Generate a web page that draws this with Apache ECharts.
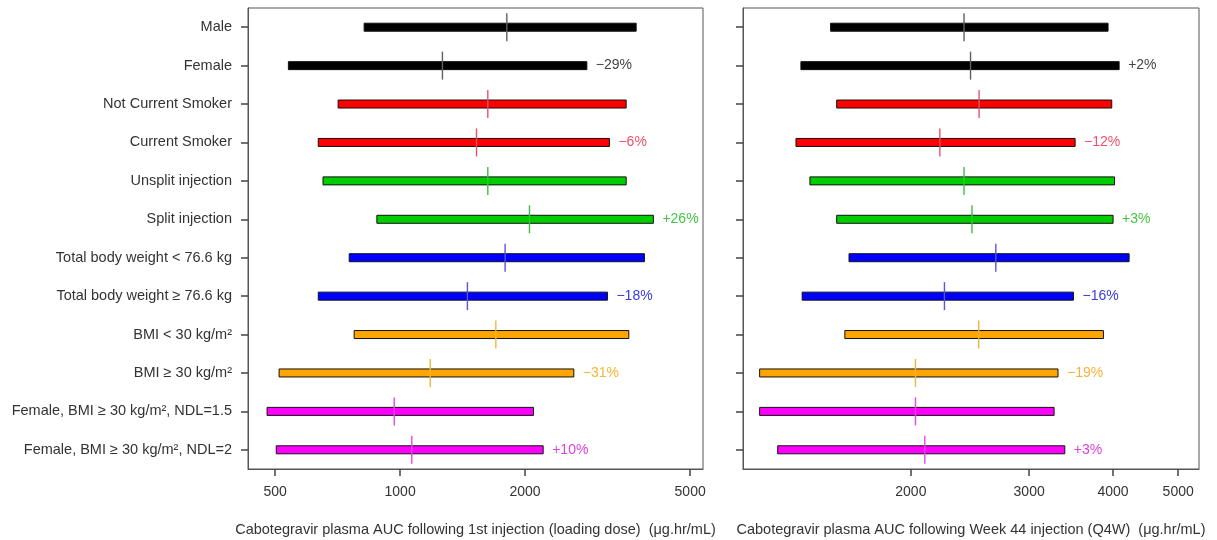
<!DOCTYPE html>
<html>
<head>
<meta charset="utf-8">
<script src="https://cdn.jsdelivr.net/npm/echarts@6/dist/echarts.min.js"></script>
<style>html,body{margin:0;padding:0;background:#fff}#c{width:1217px;height:540px}</style>
</head>
<body>
<div id="c"></div>
<script>
const categories = [
  'Male', 'Female', 'Not Current Smoker', 'Current Smoker', 'Unsplit injection', 'Split injection',
  'Total body weight < 76.6 kg', 'Total body weight \u2265 76.6 kg', 'BMI < 30 kg/m\u00b2', 'BMI \u2265 30 kg/m\u00b2',
  'Female, BMI \u2265 30 kg/m\u00b2, NDL=1.5', 'Female, BMI \u2265 30 kg/m\u00b2, NDL=2'
];
const leftLow  = [819, 538, 709, 635, 652, 879, 754, 635, 775, 511, 478, 503];
const leftMed  = [1808, 1265, 1627, 1528, 1627, 2050, 1791, 1453, 1701, 1182, 968, 1067];
const leftHigh = [3706, 2819, 3506, 3195, 3506, 4078, 3880, 3160, 3558, 2622, 2096, 2212];
const leftPct  = ['', '\u221229%', '', '\u22126%', '', '+26%', '', '\u221218%', '', '\u221231%', '', '+10%'];
const rightLow  = [1519, 1372, 1551, 1349, 1415, 1551, 1618, 1378, 1595, 1191, 1191, 1267];
const rightMed  = [2400, 2454, 2527, 2209, 2400, 2466, 2676, 2244, 2524, 2032, 2032, 2098];
const rightHigh = [3932, 4084, 3982, 3512, 4020, 4000, 4226, 3492, 3870, 3312, 3268, 3390];
const rightPct  = ['', '+2%', '', '\u221212%', '', '+3%', '', '\u221216%', '', '\u221219%', '', '+3%'];
const leftTicks  = [500, 1000, 2000, 5000];
const rightTicks = [2000, 3000, 4000, 5000];
const leftTitle  = 'Cabotegravir plasma AUC following 1st injection (loading dose)  (\u03bcg.hr/mL)';
const rightTitle = 'Cabotegravir plasma AUC following Week 44 injection (Q4W)  (\u03bcg.hr/mL)';

// styles (per pair of rows)
const barColors  = ['#000000', '#ff0000', '#00cd00', '#0000ff', '#ffa500', '#ff00ff'];
const medColors  = ['#606060', '#e8506e', '#3cbf3c', '#5555dd', '#f2b636', '#e648e6'];
const pctColors  = ['#444444', '#f0506a', '#44c444', '#3a3ae0', '#f5b43a', '#e040e0'];
const FONT = '"Liberation Sans", Arial, sans-serif';
const data_pct = [leftPct, rightPct];

function makeData(lo, me, hi) {
  return lo.map((v, i) => [v, me[i], hi[i], i]);
}

function renderItem(params, api) {
  const idx = api.value(3);
  const pLo = api.coord([api.value(0), idx]);
  const pMe = api.coord([api.value(1), idx]);
  const pHi = api.coord([api.value(2), idx]);
  const g = Math.floor(idx / 2);
  const pct = data_pct[params.seriesIndex][params.dataIndex];
  const h = 8;
  const children = [
    {
      type: 'rect',
      shape: { x: pLo[0], y: pLo[1] - h / 2, width: pHi[0] - pLo[0], height: h },
      style: { fill: barColors[g], stroke: '#111', lineWidth: 1 }
    },
    {
      type: 'line',
      shape: { x1: pMe[0], y1: pMe[1] - 14, x2: pMe[0], y2: pMe[1] + 14 },
      style: { stroke: medColors[g], lineWidth: 1.4 }
    }
  ];
  if (pct) {
    children.push({
      type: 'text',
      style: {
        text: pct, x: pHi[0] + 9, y: pHi[1], verticalAlign: 'middle', align: 'left',
        fill: pctColors[g], font: '14px ' + FONT
      }
    });
  }
  return { type: 'group', children };
}

const chart = echarts.init(document.getElementById('c'), null, { renderer: 'canvas' });

function xAxis(gi, min, ticks, title) {
  return {
    type: 'log', gridIndex: gi, logBase: 10, min: min, max: 5370,
    axisLine: { show: true, lineStyle: { color: '#555', width: 1 } },
    axisTick: { show: true, length: 7, customValues: ticks, lineStyle: { color: '#444', width: 1.5 } },
    axisLabel: { customValues: ticks, margin: 16, fontSize: 14, color: '#333', fontFamily: FONT,
                 formatter: v => String(Math.round(v)) },
    splitLine: { show: false }, minorTick: { show: false }, minorSplitLine: { show: false },
    name: title, nameLocation: 'middle', nameGap: 53,
    nameTextStyle: { fontSize: 14.5, color: '#333', fontFamily: FONT }
  };
}
function yAxis(gi, showLabels) {
  return {
    type: 'category', gridIndex: gi, inverse: true, data: categories,
    axisLine: { show: true, lineStyle: { color: '#555' } },
    axisTick: { show: true, alignWithLabel: true, length: 7, lineStyle: { color: '#444', width: 1.5 } },
    axisLabel: { show: showLabels, margin: 16, fontSize: 14.5, color: '#333', fontFamily: FONT },
    splitLine: { show: false }
  };
}

chart.setOption({
  animation: false,
  grid: [
    { left: 248, top: 8, width: 455, height: 461, show: true, borderColor: '#555', borderWidth: 1,
      outerBoundsMode: 'none', containLabel: false },
    { left: 743, top: 8, width: 456, height: 461, show: true, borderColor: '#555', borderWidth: 1,
      outerBoundsMode: 'none', containLabel: false }
  ],
  xAxis: [xAxis(0, 430, leftTicks, leftTitle), xAxis(1, 1125, rightTicks, rightTitle)],
  yAxis: [yAxis(0, true), yAxis(1, false)],
  series: [
    { type: 'custom', xAxisIndex: 0, yAxisIndex: 0, renderItem,
      encode: { x: [0, 1, 2], y: 3 }, data: makeData(leftLow, leftMed, leftHigh) },
    { type: 'custom', xAxisIndex: 1, yAxisIndex: 1, renderItem,
      encode: { x: [0, 1, 2], y: 3 }, data: makeData(rightLow, rightMed, rightHigh) }
  ]
});
</script>
</body>
</html>
